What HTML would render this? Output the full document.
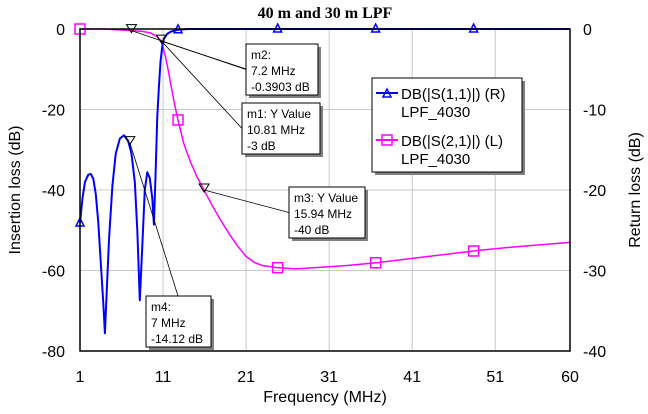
<!DOCTYPE html>
<html><head><meta charset="utf-8"><style>
body{margin:0;background:#fff;width:648px;height:409px;overflow:hidden;font-family:"Liberation Sans",Arial,sans-serif}
</style></head><body>
<svg id="chart" width="648" height="409" xmlns="http://www.w3.org/2000/svg" font-family="Liberation Sans, Arial, sans-serif">
<text x="325" y="18" text-anchor="middle" font-family="Liberation Serif, serif" font-weight="bold" font-size="16">40 m and 30 m LPF</text>
<g id="grid"></g>
<g id="series"></g>
<rect x="80" y="29" width="490" height="322" fill="none" stroke="#000" stroke-width="1.5"/>
<g id="markers"></g>
<g id="axes" font-size="16"></g>
<text x="325" y="402" text-anchor="middle" font-size="16">Frequency (MHz)</text>
<text transform="translate(20,190) rotate(-90)" text-anchor="middle" font-size="16">Insertion loss (dB)</text>
<text transform="translate(640,190) rotate(-90)" text-anchor="middle" font-size="16">Return loss (dB)</text>
<g>
<rect x="375" y="81" width="150" height="94" fill="#808080"/>
<rect x="372" y="78" width="150" height="94" fill="#fff" stroke="#000"/>
<line x1="376" y1="93" x2="398" y2="93" stroke="#0000ff" stroke-width="2"/>
<polygon points="383,97 387,89 391,97" fill="none" stroke="#0000ff" stroke-width="1.5"/>
<text x="401" y="99" font-size="15">DB(|S(1,1)|) (R)</text>
<text x="401" y="117" font-size="15">LPF_4030</text>
<line x1="376" y1="140" x2="398" y2="140" stroke="#ff00ff" stroke-width="2"/>
<rect x="382" y="135" width="10" height="10" fill="none" stroke="#ff00ff" stroke-width="1.5"/>
<text x="401" y="146" font-size="15">DB(|S(2,1)|) (L)</text>
<text x="401" y="164" font-size="15">LPF_4030</text>
</g>
</svg>
<script>
const xTicks=[1,11,21,31,41,51,60];
const yLeftTicks=[0,-20,-40,-60,-80];
const yRightTicks=[0,-10,-20,-30,-40];
const s11Freq=[1,1.3,1.6,2.0,2.3,2.6,2.9,3.2,3.5,3.8,4.0,4.2,4.5,4.9,5.3,5.8,6.3,6.8,7.2,7.6,7.9,8.2,8.5,8.8,9.1,9.4,9.7,9.9,10.1,10.3,10.5,10.7,10.9,11.1,11.5,12,12.8,14,60];
const s11Val=[-24.1,-21,-19,-18.1,-18,-18.6,-20.5,-24,-29,-34,-37.8,-33,-26,-19.5,-15.5,-13.6,-13.2,-13.9,-15.5,-19,-25,-33.7,-27,-20,-17.8,-18.5,-21,-24.3,-18,-11,-7.2,-4,-2.2,-1.2,-0.6,-0.3,-0.1,0,0];
const s21Freq=[1,4,7.2,8.5,9.5,10.2,10.81,11.3,11.6,12.0,12.4,12.8,13.5,14.3,15.1,15.94,16.9,17.9,19,20,21,22,23,24.8,27,30,33,37,41,45,49,53,57,60];
const s21Val=[0,0,-0.39,-0.6,-1.0,-1.8,-3,-7,-10,-14.5,-18.8,-22.6,-28.5,-33,-36.8,-40,-43.8,-47.4,-51,-54,-56.5,-58,-58.8,-59.3,-59.6,-59.2,-58.8,-58,-57,-56,-55,-54.2,-53.5,-53];
const s11MarkerFreq=[1,12.8,24.8,36.6,48.4];
const s21MarkerFreq=[1,12.8,24.8,36.6,48.4];
const mk=[{n:'m2',f:7.2,v:-0.3903,ax:'L'},{n:'m1',f:10.81,v:-3,ax:'L'},{n:'m3',f:15.94,v:-40,ax:'L'},{n:'m4',f:7,v:-14.12,ax:'R'}];
const X=f=>80+(f-1)*490/59, YL=v=>29-v*322/80, YR=v=>29-v*322/40;
const NS='http://www.w3.org/2000/svg';
function mkEl(t,a,p){const e=document.createElementNS(NS,t);for(const k in a)e.setAttribute(k,a[k]);p.appendChild(e);return e;}
const g=document.getElementById('grid'),ax=document.getElementById('axes'),sr=document.getElementById('series'),mg=document.getElementById('markers');
xTicks.forEach(t=>{const l=mkEl('line',{x1:X(t),x2:X(t),y1:29,y2:351,stroke:'#c8c8c8'},g);


const tx=mkEl('text',{x:X(t),y:382,'text-anchor':'middle'},ax);tx.textContent=t;

});
yLeftTicks.forEach(t=>{const l=mkEl('line',{x1:80,x2:570,y1:YL(t),y2:YL(t),stroke:'#c8c8c8'},g);


const tx=mkEl('text',{x:65,y:YL(t)+6,'text-anchor':'end'},ax);tx.textContent=t;

});
yRightTicks.forEach(t=>{const tx=mkEl('text',{x:583,y:YR(t)+6},ax);tx.textContent=t;

});
function interp(fs,vs,f){for(let i=1;i<fs.length;i++)if(f<=fs[i]){const r=(f-fs[i-1])/(fs[i]-fs[i-1]);return vs[i-1]+r*(vs[i]-vs[i-1]);}return vs[vs.length-1];}
const p21=mkEl('polyline',{points:s21Freq.map((f,i)=>X(f)+','+YL(s21Val[i])).join(' '),fill:'none',stroke:'#ff00ff','stroke-width':1.5},sr);


const p11=mkEl('polyline',{points:s11Freq.map((f,i)=>X(f)+','+YR(s11Val[i])).join(' '),fill:'none',stroke:'#0000ff','stroke-width':2,'stroke-linejoin':'round'},sr);


s21MarkerFreq.forEach(f=>{const x=X(f),y=YL(interp(s21Freq,s21Val,f));const r=mkEl('rect',{x:x-5,y:y-5,width:10,height:10,fill:'none',stroke:'#ff00ff','stroke-width':1.5},sr);

});
s11MarkerFreq.forEach(f=>{const x=X(f),y=YR(interp(s11Freq,s11Val,f));const p=mkEl('polygon',{points:`${x-4},${y+3} ${x},${y-5} ${x+4},${y+3}`,fill:'none',stroke:'#0000ff','stroke-width':1.5},sr);

});
const boxes={m2:[246,44,72,51,['m2:','7.2 MHz','-0.3903 dB']],m1:[242,103,78,51,['m1: Y Value','10.81 MHz','-3 dB']],m3:[289,187,76,51,['m3: Y Value','15.94 MHz','-40 dB']],m4:[146,296,65,51,['m4:','7 MHz','-14.12 dB']]};
mk.forEach(m=>{const x=X(m.f),y=m.ax==='L'?YL(m.v):YR(m.v);const b=boxes[m.n];
mkEl('line',{x1:x,y1:y,x2:m.n==='m4'?178:b[0],y2:m.n==='m4'?b[1]:b[1]+b[3]/2,stroke:'#000','stroke-width':0.8},mg);
if(m.n==='m1')mkEl('line',{x1:x,y1:y,x2:246,y2:69,stroke:'#000','stroke-width':0.8},mg);
const t=mkEl('polygon',{points:`${x-5},${y-6} ${x+5},${y-6} ${x},${y+2}`,fill:'none',stroke:'#000'},mg);


mkEl('rect',{x:b[0]+3,y:b[1]+3,width:b[2],height:b[3],fill:'#808080'},mg);
const r=mkEl('rect',{x:b[0],y:b[1],width:b[2],height:b[3],fill:'#fff',stroke:'#000'},mg);


b[4].forEach((s,i)=>{const tx=mkEl('text',{x:b[0]+5,y:b[1]+15+i*16,'font-size':12},mg);tx.textContent=s;});});
</script>
</body></html>
